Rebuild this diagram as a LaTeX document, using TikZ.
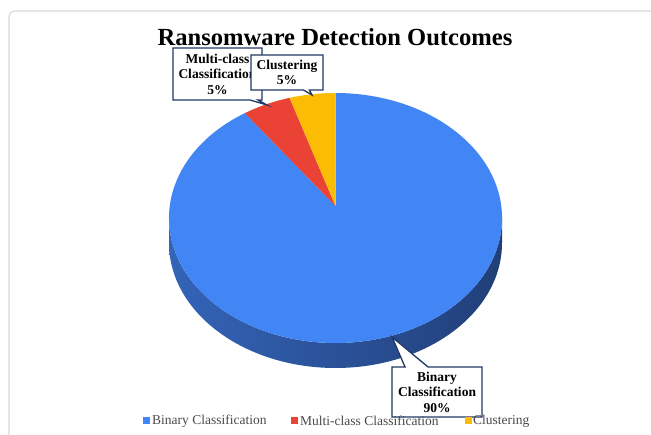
\documentclass[tikz,border=0pt]{standalone}
\usepackage{fontspec}
\setmainfont{Liberation Serif}
\usetikzlibrary{shapes.callouts}

\definecolor{pieblue}{HTML}{4285F4}
\definecolor{piered}{HTML}{EA4335}
\definecolor{pieyellow}{HTML}{FBBC04}
\definecolor{sideL}{HTML}{3464B8}
\definecolor{sideM}{HTML}{1C3766}
\definecolor{sideR}{HTML}{213F78}
\definecolor{calloutnavy}{HTML}{1F3864}
\definecolor{legendgray}{HTML}{4A4A4A}
\definecolor{framegray}{HTML}{D9D9D9}

\tikzset{
  callbox/.style={rectangle callout, draw=calloutnavy, line width=1.3pt, fill=white,
    align=center, inner sep=0pt, font=\fontsize{13.5}{15.5}\selectfont\bfseries},
  legendkey/.style={minimum size=7pt, inner sep=0pt},
  legendtext/.style={anchor=west, inner sep=0pt, text=legendgray,
    font=\fontsize{13.5}{15}\selectfont}
}

\begin{document}
\begin{tikzpicture}[x=1pt,y=-1pt]
\useasboundingbox (0,0) rectangle (651,435);
\fill[white] (0,0) rectangle (651,435);

% panel frame
\draw[framegray, line width=1.2pt, rounded corners=6pt] (651,11) -- (9,11) -- (9,435);

% title
\node[font=\fontsize{24.6}{28}\selectfont\bfseries] (title) at (335,37) {Ransomware Detection Outcomes};

% 3-D pie: side band, then the three slices on top
\begin{scope}[shift={(335.5,218)}, y=1pt]
  \shade[left color=sideL, middle color=sideM, right color=sideR]
    (-166.5,0) -- (-166.5,-25)
    arc[start angle=180, end angle=360, x radius=166.5, y radius=125]
    -- (166.5,0)
    arc[start angle=0, end angle=-180, x radius=166.5, y radius=125] -- cycle;
  \fill[pieblue] (0,12) -- (123:166.5 and 125)
    arc[start angle=123, end angle=450, x radius=166.5, y radius=125] -- cycle;
  \fill[piered] (0,12) -- (106:166.5 and 125)
    arc[start angle=106, end angle=123, x radius=166.5, y radius=125] -- cycle;
  \fill[pieyellow] (0,12) -- (90:166.5 and 125)
    arc[start angle=90, end angle=106, x radius=166.5, y radius=125] -- cycle;
\end{scope}

% callout targets on the slices
\coordinate (tipMulti) at (267,105);
\coordinate (tipClust) at (312,95);
\coordinate (tipBin) at (392,337);

% data labels
\node[callbox, minimum width=89pt, minimum height=52pt, callout pointer width=8pt,
      callout absolute pointer={(tipMulti)}] (multi) at (217.5,74)
  {Multi-class\\Classification\\5\%};
\node[callbox, minimum width=72pt, minimum height=35pt, callout pointer width=6pt,
      callout absolute pointer={(tipClust)}] (clust) at (287,72.5)
  {Clustering\\5\%};
\node[callbox, minimum width=90pt, minimum height=50pt, callout pointer width=23pt,
      callout absolute pointer={(tipBin)}] (bin) at (437,392)
  {Binary\\Classification\\90\%};

% legend
\node[legendkey, fill=pieblue] (k1) at (146,421) {};
\node[legendtext] (l1) at (152,421) {Binary Classification};
\node[legendkey, fill=piered] (k2) at (294,421) {};
\node[legendtext] (l2) at (300,421) {Multi-class Classification};
\node[legendkey, fill=pieyellow] (k3) at (468,421) {};
\node[legendtext] (l3) at (473,421) {Clustering};
\end{tikzpicture}
\end{document}
